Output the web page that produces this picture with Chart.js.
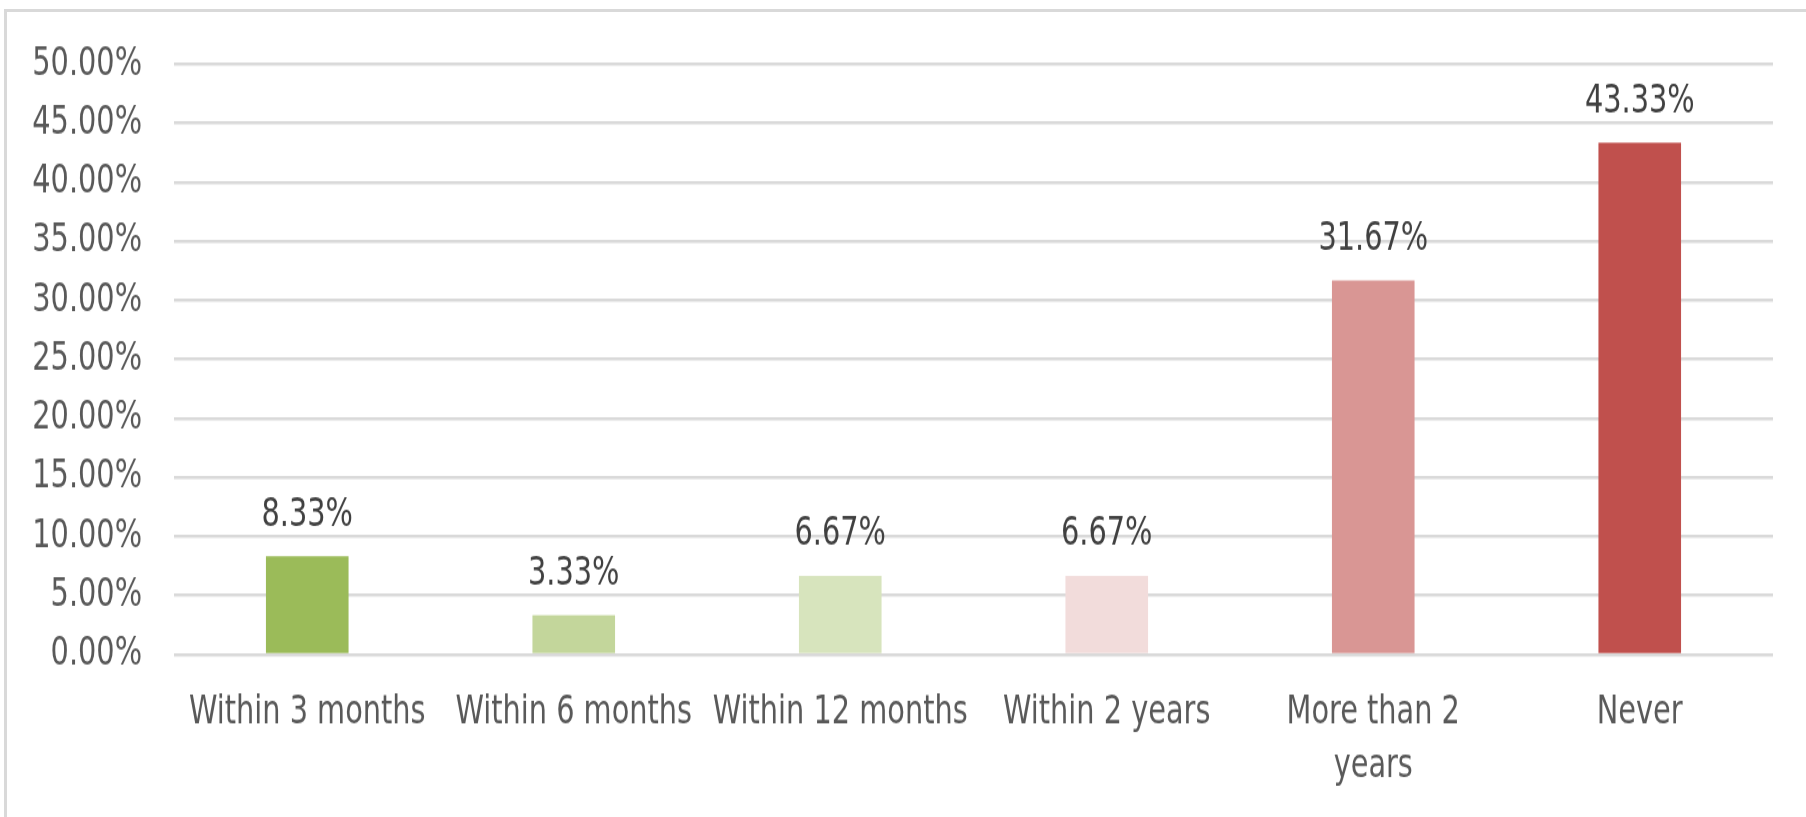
<!DOCTYPE html>
<html>
<head>
<meta charset="utf-8">
<script src="https://cdn.jsdelivr.net/npm/chart.js@4.4.1/dist/chart.umd.min.js"></script>
<style>
  html, body { margin: 0; padding: 0; background: #fff; overflow: hidden; }
  #wrap { position: relative; width: 1806px; height: 817px; }
  /* the source picture is stretched vertically, so the canvas is too */
  #chart { display: block; transform: scaleY(1.2492); transform-origin: 0 0; }
  #frame {
    position: absolute; left: 4px; top: 9px; right: -10px; bottom: -10px;
    border-left: 3px solid #d9d9d9; border-top: 3px solid #d9d9d9;
    pointer-events: none;
  }
</style>
</head>
<body>
<div id="wrap">
  <canvas id="chart" width="1806" height="654"></canvas>
  <div id="frame"></div>
</div>
<script>
// Data
const categories = ['Within 3 months', 'Within 6 months', 'Within 12 months', 'Within 2 years', ['More than 2', 'years'], 'Never'];
const shares = [8.33, 3.33, 6.67, 6.67, 31.67, 43.33];
const barColors = ['#9bbb59', '#c3d69b', '#d7e4bd', '#f2dcdb', '#d99694', '#c0504d'];
const yTicks = [0, 5, 10, 15, 20, 25, 30, 35, 40, 45, 50];

const fontFamily = '"DejaVu Sans Condensed", "Liberation Sans", sans-serif';

// value labels above each bar
const valueLabels = {
    id: 'valueLabels',
    afterDatasetsDraw(chart) {
        const ctx = chart.ctx;
        const meta = chart.getDatasetMeta(0);
        ctx.save();
        ctx.font = '32px ' + fontFamily;
        ctx.fillStyle = '#404040';
        ctx.textAlign = 'center';
        ctx.textBaseline = 'middle';
        meta.data.forEach((bar, i) => {
            ctx.fillText(shares[i].toFixed(2) + '%', bar.x, bar.y - 33);
        });
        ctx.restore();
    }
};

const chart = new Chart(document.getElementById('chart').getContext('2d'), {
    type: 'bar',
    data: {
        labels: categories,
        datasets: [{
            data: shares,
            backgroundColor: barColors,
            borderWidth: 0,
            barPercentage: 0.31,
            categoryPercentage: 1
        }]
    },
    options: {
        responsive: false,
        animation: false,
        devicePixelRatio: 1,
        layout: { padding: { top: 50, right: 33, left: 0, bottom: 0 } },
        plugins: {
            legend: { display: false },
            tooltip: { enabled: false }
        },
        scales: {
            x: {
                grid: { display: false, drawTicks: false },
                border: { display: false },
                ticks: {
                    color: '#595959',
                    font: { family: fontFamily, size: 32, lineHeight: 1.35 },
                    padding: 25,
                    maxRotation: 0,
                    autoSkip: false
                },
                afterFit(scale) { scale.height = 130; }
            },
            y: {
                min: 0,
                max: 50,
                afterBuildTicks(scale) { scale.ticks = yTicks.map(v => ({ value: v })); },
                grid: { color: '#d9d9d9', lineWidth: 2.5, drawTicks: false },
                border: { display: false },
                ticks: {
                    color: '#595959',
                    font: { family: fontFamily, size: 32 },
                    padding: 32,
                    callback: v => v.toFixed(2) + '%'
                },
                afterFit(scale) { scale.width = 174; }
            }
        }
    },
    plugins: [valueLabels]
});
</script>
</body>
</html>
